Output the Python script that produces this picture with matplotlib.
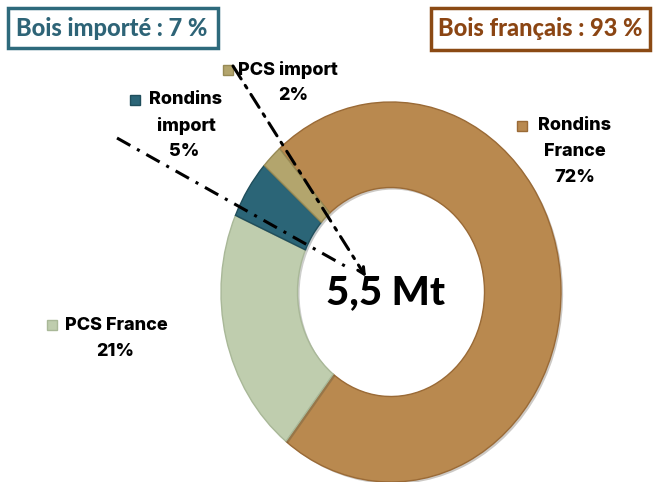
import matplotlib
matplotlib.use("Agg")
import matplotlib.pyplot as plt
from matplotlib.patches import Rectangle
import matplotlib.patheffects as pe

# data
categories = ["Rondins France", "PCS France", "Rondins import", "PCS import"]
label_lines = [["Rondins", "France"], ["PCS France"], ["Rondins", "import"], ["PCS import"]]
values = [72, 21, 5, 2]
colors = ["#b9894f", "#bfcdae", "#2b6577", "#b3a56d"]
edges = ["#9a6a36", "#a9b898", "#1f4e5c", "#978a55"]
total_label = "5,5 Mt"
box_imported = "Bois importé : 7 %"
box_french = "Bois français : 93 %"

W, H = 653, 482
fig = plt.figure(figsize=(W / 100, H / 100), dpi=100)

# donut, slightly taller than wide like the original
cx, cy, rx, ry = 391, 292, 170, 190
ax = fig.add_axes([(cx - rx) / W, (H - cy - ry) / H, 2 * rx / W, 2 * ry / H])
wedges, _ = ax.pie(values, colors=colors, startangle=131, counterclock=False,
                   radius=1, wedgeprops=dict(width=0.45, linewidth=1.0))
for w, ec in zip(wedges, edges):
    w.set_edgecolor(ec)
    w.set_path_effects([pe.SimplePatchShadow(offset=(1.5, -1.5), alpha=0.25), pe.Normal()])
ax.set_aspect("auto")
ax.set_xlim(-1, 1)
ax.set_ylim(-1, 1)

# overlay in pixel coords for texts, boxes and arrows
ov = fig.add_axes([0, 0, 1, 1], facecolor="none")
ov.set_xlim(0, W)
ov.set_ylim(H, 0)
ov.axis("off")

ov.text(386, 293, total_label, ha="center", va="center", fontsize=29,
        fontweight="black", family="Lato", color="black")

# header boxes
ov.add_patch(Rectangle((8, 8), 210, 40, fill=False, edgecolor="#2e6a7c", lw=2.5))
ov.text(112, 28, box_imported, ha="center", va="center", fontsize=17,
        fontweight="black", family="Lato", color="#2e6477")
ov.add_patch(Rectangle((431, 8), 219, 42, fill=False, edgecolor="#8b4a14", lw=2.5))
ov.text(540, 29, box_french, ha="center", va="center", fontsize=17,
        fontweight="black", family="Lato", color="#8b4513")

# labels: (marker x, text center x, first line y)
label_pos = [(522, 575, 126), (52, 116, 325), (135, 186, 100), (228, 288, 70)]
pct_x = [575, 115, 184, 293]
for lines, v, c, ec, (mx, tx, ty), px in zip(label_lines, values, colors, edges, label_pos, pct_x):
    ov.add_patch(Rectangle((mx - 5, ty - 5), 10, 10, facecolor=c, edgecolor=ec, lw=1))
    for i, ln in enumerate(lines):
        ov.text(tx, ty + 26 * i, ln, ha="center", va="center", fontsize=13,
                fontweight="heavy", family="Inter", color="black")
    ov.text(px, ty + 26 * len(lines), f"{v}%", ha="center", va="center", fontsize=13,
            fontweight="heavy", family="Inter", color="black")

# dash-dot pointers to the centre
dd = (0, (5, 2.5, 1, 2.5))
ov.plot([117, 345], [138, 266], color="black", lw=2.2, linestyle=dd)
ov.annotate("", xy=(366, 277), xytext=(233, 66),
            arrowprops=dict(arrowstyle="->", color="black", lw=2.2, linestyle=dd,
                            shrinkA=0, shrinkB=0, mutation_scale=12))

fig.savefig("out.png", dpi=100)
